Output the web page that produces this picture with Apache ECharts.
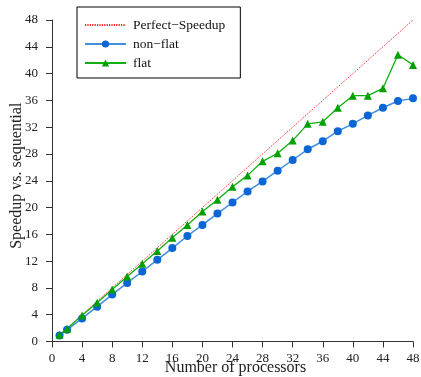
<!DOCTYPE html>
<html>
<head>
<meta charset="utf-8">
<script src="https://cdn.jsdelivr.net/npm/echarts@6/dist/echarts.min.js"></script>
<style>html,body{margin:0;padding:0;background:#fff}#c{width:421px;height:377px}</style>
</head>
<body>
<div id="c"></div>
<script>
const processors = [1, 2, 4, 6, 8, 10, 12, 14, 16, 18, 20, 22, 24, 26, 28, 30, 32, 34, 36, 38, 40, 42, 44, 46, 48];
const nonFlat = [0.9, 1.75, 3.45, 5.2, 7.0, 8.75, 10.45, 12.2, 13.95, 15.75, 17.4, 19.1, 20.75, 22.4, 23.9, 25.5, 27.1, 28.7, 29.9, 31.4, 32.5, 33.75, 34.9, 35.9, 36.3];
const flat = [1.0, 1.9, 3.9, 5.8, 7.75, 9.7, 11.6, 13.5, 15.5, 17.4, 19.4, 21.15, 23.1, 24.8, 26.9, 28.1, 30.0, 32.5, 32.8, 34.9, 36.7, 36.7, 37.8, 42.8, 41.3];
const perfect = [1, 48];
const xTicks = [0, 4, 8, 12, 16, 20, 24, 28, 32, 36, 40, 44, 48];
const yTicks = [0, 4, 8, 12, 16, 20, 24, 28, 32, 36, 40, 44, 48];
const seriesNames = ['Perfect\u2212Speedup', 'non\u2212flat', 'flat'];

const font = 'Liberation Serif';
const chart = echarts.init(document.getElementById('c'), null, {renderer: 'canvas'});
const axisCommon = {
  axisLine: {show: true, lineStyle: {color: '#333', width: 1}},
  axisTick: {show: true, inside: false, length: 6, lineStyle: {color: '#333'}},
  splitLine: {show: false},
  nameLocation: 'middle',
  nameMoveOverlap: false
};
chart.setOption({
  animation: false,
  backgroundColor: '#fff',
  grid: {left: 52, right: 8, top: 20, bottom: 35.5, containLabel: false, outerBoundsMode: 'none'},
  legend: {
    orient: 'vertical', left: 77, top: 7,
    padding: [11, 15, 8, 7], itemGap: 5, itemWidth: 41, itemHeight: 9,
    borderColor: '#000', borderWidth: 1,
    textStyle: {fontFamily: font, fontSize: 13.5, color: '#111', padding: [0, 0, 0, 2]},
    data: [
      {name: seriesNames[0], itemStyle: {opacity: 0}},
      {name: seriesNames[1]},
      {name: seriesNames[2]}
    ]
  },
  xAxis: Object.assign({}, axisCommon, {
    type: 'value', min: xTicks[0], max: xTicks[xTicks.length - 1], interval: xTicks[1] - xTicks[0],
    axisLabel: {color: '#222', fontFamily: font, fontSize: 13, margin: 11},
    name: 'Number of processors', nameGap: 18,
    nameTextStyle: {color: '#222', fontFamily: font, fontSize: 16, padding: [0, 0, 0, 6]}
  }),
  yAxis: Object.assign({}, axisCommon, {
    type: 'value', min: yTicks[0], max: yTicks[yTicks.length - 1], interval: yTicks[1] - yTicks[0],
    axisLabel: {color: '#222', fontFamily: font, fontSize: 13, margin: 14},
    name: 'Speedup vs. sequential', nameGap: 27,
    nameTextStyle: {color: '#222', fontFamily: font, fontSize: 16, padding: [0, 0, 0, 10]}
  }),
  series: [
    {
      name: seriesNames[0], type: 'line', symbol: 'none',
      data: perfect.map(v => [v, v]),
      lineStyle: {color: '#ff2020', type: [1.2, 1.2], width: 1},
      itemStyle: {color: '#ff2020'}
    },
    {
      name: seriesNames[1], type: 'line', symbol: 'circle', symbolSize: 8,
      data: processors.map((p, i) => [p, nonFlat[i]]),
      lineStyle: {color: '#3f8ee0', width: 1.5},
      itemStyle: {color: '#0a66d4'}
    },
    {
      name: seriesNames[2], type: 'line', symbol: 'triangle', symbolSize: 8,
      data: processors.map((p, i) => [p, flat[i]]),
      lineStyle: {color: '#10b010', width: 1.3},
      itemStyle: {color: '#00a000'}
    }
  ]
});
</script>
</body>
</html>
